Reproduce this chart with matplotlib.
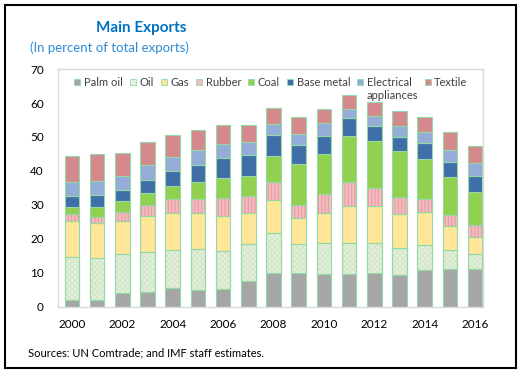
import matplotlib.pyplot as plt
from matplotlib.lines import Line2D
from matplotlib.patches import Rectangle

plt.rcParams['font.family'] = ['Lato', 'DejaVu Sans']
plt.rcParams['hatch.linewidth'] = 0.8

years = list(range(2000, 2017))

palm_oil = [1.9, 1.9, 4.1, 4.4, 5.4, 4.9, 5.2, 7.6, 10.0, 9.8, 9.6, 9.5, 10.0, 9.3, 10.8, 11.2, 11.2]
oil = [12.6, 12.5, 11.3, 11.8, 11.3, 12.1, 11.3, 10.8, 11.8, 8.6, 9.0, 9.1, 8.6, 8.0, 7.4, 5.5, 4.4]
gas = [10.6, 10.1, 9.9, 10.6, 10.8, 10.5, 10.1, 9.1, 9.7, 7.8, 8.9, 11.2, 11.0, 9.9, 9.7, 7.0, 4.9]
rubber = [2.1, 1.9, 2.6, 3.2, 4.1, 4.1, 5.3, 5.2, 5.2, 3.8, 5.7, 7.0, 5.3, 5.2, 3.9, 3.4, 3.6]
coal = [2.2, 3.0, 3.1, 3.4, 3.9, 5.1, 6.1, 5.8, 7.8, 12.1, 11.8, 13.5, 13.9, 13.4, 11.8, 11.0, 9.7]
base_metal = [3.3, 3.5, 3.5, 3.8, 4.5, 5.0, 5.8, 6.3, 6.0, 5.5, 5.4, 5.2, 4.4, 4.1, 4.7, 4.4, 4.6]
electrical = [4.1, 4.0, 4.0, 4.5, 4.2, 4.4, 4.0, 3.7, 3.4, 3.4, 3.6, 2.8, 3.1, 3.4, 3.3, 3.7, 3.8]
textile = [7.6, 8.2, 6.9, 6.8, 6.5, 6.0, 5.7, 5.1, 4.6, 5.0, 4.2, 4.2, 3.9, 4.4, 4.4, 5.2, 5.1]

# legend label for electrical wraps onto a second line ("appliances")
series = [
    ("Palm oil", palm_oil, "#a6a6a6", None),
    ("Oil", oil, "#e4f0dc", "xxxxxx"),
    ("Gas", gas, "#ffe699", None),
    ("Rubber", rubber, "#f4bcc0", "|||||"),
    ("Coal", coal, "#92d050", None),
    ("Base metal", base_metal, "#3f6ea8", None),
    ("Electrical  ", electrical, "#95acd8", None),
    ("Textile", textile, "#d48a8d", None),
]
hatch_colors = {"Oil": "#d3e6c8", "Rubber": "#e79aa0"}
edge = "#93d9a6"

fig = plt.figure(figsize=(5.25, 3.78), dpi=100)
ax = fig.add_axes([0.110, 0.189, 0.810, 0.628])

bottom = [0.0] * len(years)
handles = []
for name, vals, color, hatch in series:
    ax.bar(years, vals, 0.58, bottom=bottom, color=color, edgecolor=edge, linewidth=0.8, zorder=2)
    if hatch:
        ax.bar(years, vals, 0.58, bottom=bottom, fill=False, hatch=hatch,
               edgecolor=hatch_colors[name], linewidth=0, zorder=3)
        ax.bar(years, vals, 0.58, bottom=bottom, fill=False, edgecolor=edge, linewidth=0.8, zorder=4)
    bottom = [b + v for b, v in zip(bottom, vals)]
    handles.append(Line2D([], [], linestyle="none", marker="s", markersize=4.5,
                          markerfacecolor=color, markeredgecolor=edge, markeredgewidth=0.6,
                          label=name))

ax.set_xlim(1999.44, 2016.31)
ax.set_ylim(0, 70)
ax.set_yticks(range(0, 71, 10))
ax.set_xticks(years[::2])
ax.tick_params(length=0, labelsize=8.5, colors="black")
ax.tick_params(axis="y", pad=10)
ax.tick_params(axis="x", pad=9)
for s in ax.spines.values():
    s.set_color("#d9d9d9")
    s.set_linewidth(1.0)

leg = ax.legend(handles=handles, ncol=8, loc="upper left", bbox_to_anchor=(0.02, 1.0),
                frameon=False, fontsize=8, handlelength=0.6, handletextpad=0.3,
                columnspacing=0.6, borderaxespad=0.3)
for t in leg.get_texts():
    t.set_color("#404040")
# drawn after the legend so the anchor text already has its position
ax.annotate("appliances", xy=(0, 0), xycoords=leg.get_texts()[6], xytext=(0, -1.5),
            textcoords="offset points", ha="left", va="top", fontsize=8, color="#404040",
            zorder=10)

fig.text(0.27, 0.915, "Main Exports", fontsize=11, fontweight="bold", color="#0070c0", ha="center")
fig.text(0.057, 0.862, "(In percent of total exports)", fontsize=9.5, color="#2e8bd6")
fig.text(0.053, 0.057, "Sources: UN Comtrade; and IMF staff estimates.", fontsize=8, color="black")

fig.patches.append(Rectangle((0.01, 0.026), 0.972, 0.961, transform=fig.transFigure,
                             fill=False, edgecolor="black", linewidth=1.5))

fig.savefig("out.png", dpi=100)
